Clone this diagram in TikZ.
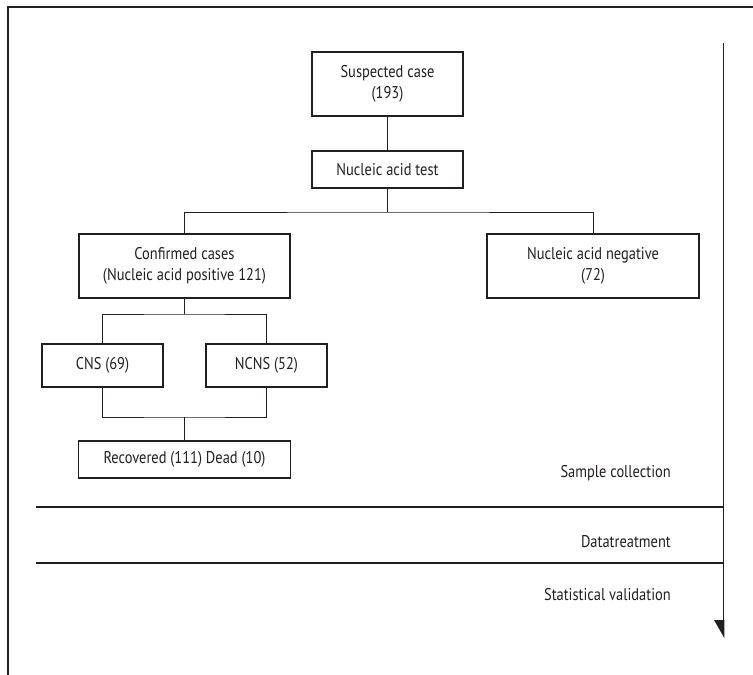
\documentclass[tikz,border=0pt]{standalone}
\usepackage{fontspec}
\setmainfont{PT Sans}[FakeStretch=0.85]
\definecolor{ink}{HTML}{231F20}
\begin{document}
\begin{tikzpicture}[x=1pt,y=-1pt,
  box/.style={draw=ink, line width=1.1pt, inner sep=0pt, align=center, text=ink,
    font=\fontsize{17}{21}\selectfont},
  conn/.style={draw=ink, line width=1pt},
  phase/.style={draw=ink, line width=2pt},
  lbl/.style={anchor=east, inner sep=0pt, text=ink, font=\fontsize{17}{21}\selectfont}]
\useasboundingbox (0,0) rectangle (753,675);
\fill[white] (0,0) rectangle (753,675);
% frame
\draw[ink, line width=1.1pt] (753,7) -- (8,7) -- (8,675);
% boxes
\node[box, minimum width=151pt, minimum height=64pt] (sus) at (387.5,84) {Suspected case\\(193)};
\node[box, minimum width=151pt, minimum height=37pt] (nat) at (387.5,169.5) {Nucleic acid test};
\node[box, minimum width=211pt, minimum height=64pt] (conf) at (184.5,266) {Confirmed cases\\(Nucleic acid positive 121)};
\node[box, minimum width=212pt, minimum height=64pt] (neg) at (593,266) {Nucleic acid negative\\(72)};
\node[box, minimum width=121pt, minimum height=43pt] (cns) at (102.5,365.5) {CNS (69)};
\node[box, minimum width=121pt, minimum height=43pt] (ncns) at (266.5,365.5) {NCNS (52)};
\node[box, minimum width=212pt, minimum height=37pt] (rec) at (184.5,459.5) {Recovered (111) Dead (10)};
% connectors
\coordinate (b1) at (387.5,212);
\coordinate (b2) at (184.5,314);
\coordinate (b3) at (184.5,417);
\draw[conn] (sus) -- (nat);
\draw[conn] (nat.south) -- (b1);
\draw[conn] (conf.north) |- (b1) -| (neg.north);
\draw[conn] (conf.south) -- (b2);
\draw[conn] (cns.north) |- (b2) -| (ncns.north);
\draw[conn] (cns.south) |- (b3) -| (ncns.south);
\draw[conn] (b3) -- (rec.north);
% phases
\coordinate (p1l) at (36,507);
\coordinate (p1r) at (723,507);
\coordinate (p2l) at (36,563);
\coordinate (p2r) at (723,563);
\draw[phase] (p1l) -- (p1r);
\draw[phase] (p2l) -- (p2r);
\node[lbl] (sc) at (671,473) {Sample collection};
\node[lbl] (dt) at (671,542) {Datatreatment};
\node[lbl] (sv) at (671,595) {Statistical validation};
% time arrow
\coordinate (at) at (723.5,43);
\coordinate (ab) at (723.5,622);
\draw[ink, line width=1.6pt] (at) -- (ab);
\fill[ink] (714,620) -- (724.3,620) -- (724.3,638) -- cycle;
\end{tikzpicture}
\end{document}
